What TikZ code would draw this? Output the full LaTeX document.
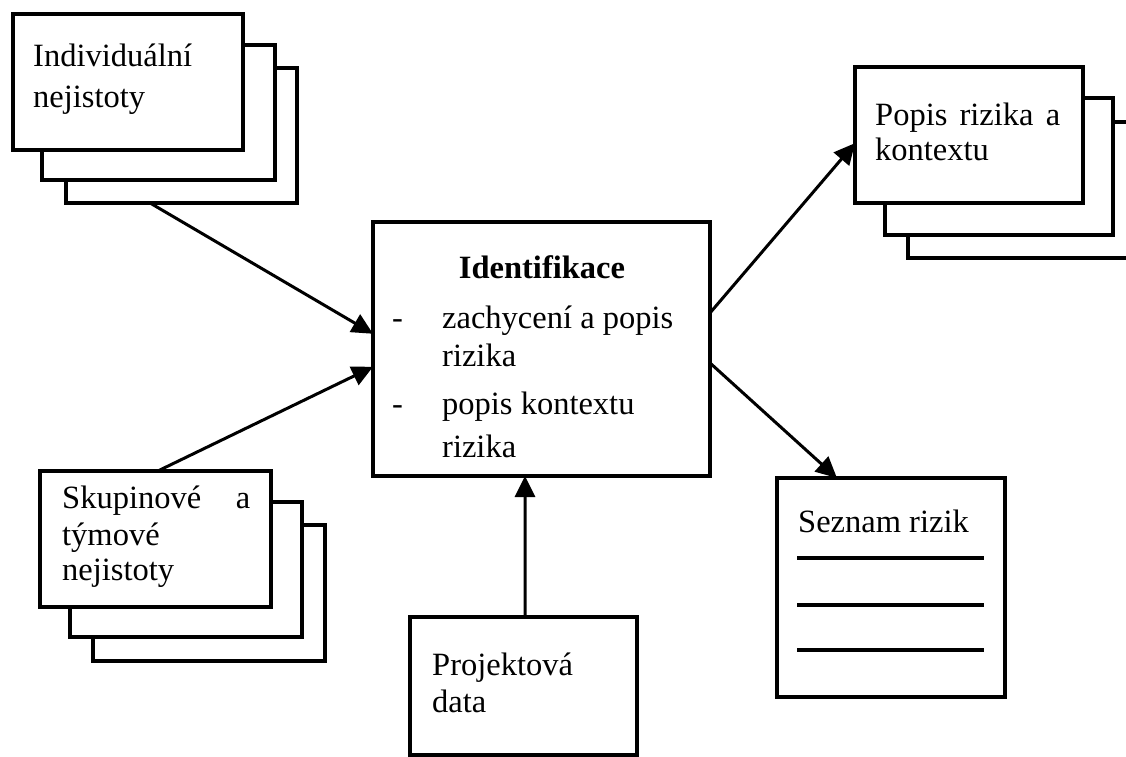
\documentclass[tikz,border=0pt]{standalone}
\usepackage{fontspec}
\setmainfont{Liberation Serif}
\usetikzlibrary{arrows.meta,calc}

\tikzset{
  card/.style={draw, line width=3.2pt, fill=white, inner sep=0pt, outer sep=0pt, anchor=north west},
  label/.style={font=\fontsize{32.5}{38}\selectfont, inner sep=0pt, anchor=base west},
  flow/.style={line width=3pt, -{Triangle[length=21pt,width=20pt]}},
  rule/.style={line width=3.5pt}
}

\begin{document}
\begin{tikzpicture}[x=1pt, y=-1pt]
  \useasboundingbox (0,0) rectangle (1126,756);
  \clip (0,0) rectangle (1126,756);

  % stacked cards: individual uncertainties
  \node[card, minimum width=231pt, minimum height=135pt] (ind3) at (66,68) {};
  \node[card, minimum width=233pt, minimum height=135pt] (ind2) at (42,45) {};
  \node[card, minimum width=230pt, minimum height=136pt] (ind1) at (13,14) {};
  \node[label] (indA) at (33,66) {Individuální};
  \node[label] (indB) at (33,107) {nejistoty};

  % stacked cards: group and team uncertainties
  \node[card, minimum width=232pt, minimum height=136pt] (skp3) at (93,525) {};
  \node[card, minimum width=232pt, minimum height=135pt] (skp2) at (70,502) {};
  \node[card, minimum width=231pt, minimum height=136pt] (skp1) at (40,471) {};
  \node[label] (skpA) at (62,508) {\hbox to 188pt{Skupinové\hfill a}};
  \node[label] (skpB) at (62,545) {týmové};
  \node[label] (skpC) at (62,580) {nejistoty};

  % stacked cards: risk description and context
  \node[card, minimum width=242pt, minimum height=136pt] (pop3) at (908,122) {};
  \node[card, minimum width=228pt, minimum height=137pt] (pop2) at (885,98) {};
  \node[card, minimum width=228pt, minimum height=136pt] (pop1) at (855,67) {};
  \node[label] (popA) at (875,125) {\hbox to 185pt{Popis\hfill rizika\hfill a}};
  \node[label] (popB) at (875,160) {kontextu};

  % central process
  \node[card, minimum width=337pt, minimum height=254pt] (idf) at (373,222) {};
  \node[label, anchor=base] (idfT) at (542,278) {\bfseries Identifikace};
  \node[label] (idfD1) at (392,328) {-};
  \node[label] (idfA) at (442,328) {zachycení a popis};
  \node[label] (idfB) at (442,366) {rizika};
  \node[label] (idfD2) at (392,414) {-};
  \node[label] (idfC) at (442,414) {popis kontextu};
  \node[label] (idfE) at (442,457) {rizika};

  % risk register
  \node[card, minimum width=228pt, minimum height=219pt] (sez) at (777,478) {};
  \node[label] (sezT) at (798,532) {Seznam rizik};
  \foreach \dy in {80,127,172}
    \draw[rule] ($(sez.north west)+(20,\dy)$) -- ++(187,0);

  % project data
  \node[card, minimum width=227pt, minimum height=138pt] (prj) at (410,617) {};
  \node[label] (prjA) at (432,675) {Projektová};
  \node[label] (prjB) at (432,712) {data};

  % connectors
  \draw[flow] ($(ind3.south west)!0.364!(ind3.south east)$)
           -- ($(idf.north west)!0.44!(idf.south west)$);
  \draw[flow] ($(skp1.north west)!0.51!(skp1.north east)$)
           -- ($(idf.north west)!0.57!(idf.south west)$);
  \draw[flow] ($(prj.north west)!0.507!(prj.north east)$)
           -- ($(idf.south west)!0.451!(idf.south east)$);
  \draw[flow] ($(idf.north east)!0.358!(idf.south east)$)
           -- ($(pop1.north west)!0.56!(pop1.south west)$);
  \draw[flow] ($(idf.north east)!0.555!(idf.south east)$)
           -- ($(sez.north west)!0.263!(sez.north east)$);
\end{tikzpicture}
\end{document}
